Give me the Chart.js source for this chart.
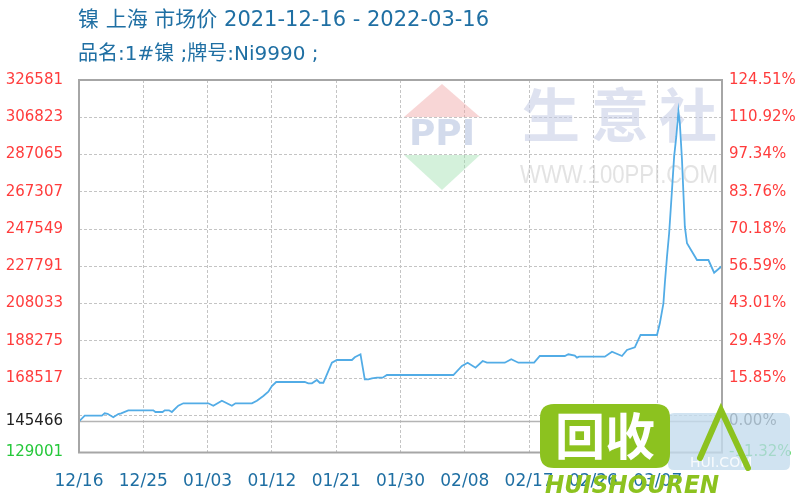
<!DOCTYPE html>
<html><head><meta charset="utf-8">
<script src="https://cdn.jsdelivr.net/npm/chart.js@4.4.1/dist/chart.umd.min.js"></script>
<style>html,body{margin:0;padding:0;background:#fff}#wrap{width:800px;height:500px;position:relative}</style>
</head><body><div id="wrap"><canvas id="c" width="800" height="500"></canvas></div>
<script>
const titleText = '镍 上海 市场价 2021-12-16 - 2022-03-16';
const subtitleText = '品名:1#镍 ;牌号:Ni9990 ;';

// x axis: days after 2021-12-16
const xTickDays = [0, 9, 18, 27, 36, 45, 54, 63, 72, 81];
const xTickLabels = ['12/16', '12/25', '01/03', '01/12', '01/21', '01/30', '02/08', '02/17', '02/26', '03/07'];

// price series (day offset, price)
const priceDays = [0, 0.8, 3.2, 3.6, 4.0, 4.8, 5.5, 5.9, 6.9, 10.4, 10.7, 11.7, 12.0, 12.6, 13.0, 13.9, 14.6,
  18.1, 18.8, 20.0, 21.4, 21.9, 24.2, 24.9, 25.8, 26.5, 27.0, 27.6, 31.6, 32.1, 32.6, 33.3, 33.7, 34.2,
  35.4, 36.1, 38.2, 38.6, 39.4, 40.0, 40.5, 41.0, 41.7, 42.5, 43.1, 52.4, 53.6, 54.4, 55.5, 56.5, 57.1,
  59.6, 60.5, 61.5, 63.7, 64.5, 68.0, 68.5, 69.4, 69.7, 70.0, 73.6, 74.6, 76.0, 76.7, 77.8, 78.6, 80.9,
  81.3, 81.8, 82.0, 82.3, 82.6, 83.0, 83.3, 83.6, 83.9, 84.1, 84.4, 84.6, 84.8, 85.1, 86.5, 88.1, 88.9, 90.0];
const prices = [145466, 148520, 148520, 149800, 149500, 147670, 149420, 149800, 151380, 151380, 150480, 150480, 151380, 151380, 150480, 153820, 155100,
  155100, 153820, 156480, 153820, 155100, 155100, 156480, 158970, 161250, 164270, 166400, 166400, 165700, 165700, 167450, 166000, 166000,
  176630, 178060, 178060, 179490, 181090, 167830, 167830, 168300, 168680, 168680, 170110, 170110, 174880, 176630, 173980, 177530, 176630,
  176630, 178430, 176630, 176630, 180180, 180180, 181090, 180400, 179300, 179830, 179830, 182470, 180180, 183370, 184800, 191330, 191330,
  197530, 208130, 218750, 232850, 245270, 268230, 285900, 296500, 310000, 303610, 284140, 266480, 248770, 239970, 231100, 231100, 224370, 227920];

const basePrice = 145466;
const yMin = 129001, yMax = 326581;
const yTickValues = [129001, 145466, 148759, 168517, 188275, 208033, 227791, 247549, 267307, 287065, 306823, 326581];
const yTickLabels = ['129001', '145466', '', '168517', '188275', '208033', '227791', '247549', '267307', '287065', '306823', '326581'];
const pctTickLabels = ['-11.32%', '0.00%', '', '15.85%', '29.43%', '43.01%', '56.59%', '70.18%', '83.76%', '97.34%', '110.92%', '124.51%'];

const RED = '#ff3c3c', GREEN = '#25c83a', BLACK = '#222222';
function tickColor(c) {
  const v = c.tick ? c.tick.value : null;
  if (v === basePrice) return BLACK;
  if (v === yMin) return GREEN;
  return RED;
}

function rr(ctx, x, y, w, h, r) {
  ctx.beginPath();
  ctx.moveTo(x + r, y); ctx.lineTo(x + w - r, y); ctx.quadraticCurveTo(x + w, y, x + w, y + r);
  ctx.lineTo(x + w, y + h - r); ctx.quadraticCurveTo(x + w, y + h, x + w - r, y + h);
  ctx.lineTo(x + r, y + h); ctx.quadraticCurveTo(x, y + h, x, y + h - r);
  ctx.lineTo(x, y + r); ctx.quadraticCurveTo(x, y, x + r, y); ctx.closePath();
}

const decor = {
  id: 'decor',
  beforeDatasetsDraw(chart) {
    const ctx = chart.ctx;
    ctx.save();
    // PPI logo
    ctx.fillStyle = 'rgba(240,165,165,0.45)';
    ctx.beginPath(); ctx.moveTo(442, 84); ctx.lineTo(480, 117); ctx.lineTo(404, 117); ctx.closePath(); ctx.fill();
    ctx.fillStyle = 'rgba(160,225,175,0.45)';
    ctx.beginPath(); ctx.moveTo(404, 155); ctx.lineTo(480, 155); ctx.lineTo(442, 190); ctx.closePath(); ctx.fill();
    ctx.fillStyle = 'rgba(175,190,220,0.55)';
    ctx.font = 'bold 36px "DejaVu Sans"';
    ctx.textAlign = 'center'; ctx.textBaseline = 'middle';
    ctx.fillText('PPI', 442, 136, 76);
    // 生意社
    ctx.fillStyle = 'rgba(195,203,228,0.55)';
    ctx.font = 'bold 58px "Noto Sans CJK SC"';
    ctx.fillText('生', 551, 115); ctx.fillText('意', 620, 115); ctx.fillText('社', 688, 115);
    ctx.fillStyle = 'rgba(200,200,200,0.5)';
    ctx.font = '25px "Liberation Sans"';
    ctx.textAlign = 'left';
    ctx.fillText('WWW.100PPI.COM', 520, 176, 198);
    ctx.restore();
  },
  afterDatasetsDraw(chart) {
    const {ctx, chartArea: a} = chart;
    ctx.save();
    ctx.strokeStyle = '#a6a6a6'; ctx.lineWidth = 2;
    ctx.strokeRect(a.left, a.top, a.right - a.left, a.bottom - a.top);
    ctx.restore();
  },
  afterDraw(chart) {
    const ctx = chart.ctx;
    ctx.save();
    ctx.textBaseline = 'middle'; ctx.textAlign = 'left';
    ctx.fillStyle = '#1f6fa3';
    ctx.font = '21px "DejaVu Sans", "Noto Sans CJK SC"';
    ctx.fillText(titleText, 78, 21);
    ctx.font = '20px "DejaVu Sans", "Noto Sans CJK SC"';
    ctx.fillText(subtitleText, 78, 55);
    // overlay watermark bottom-right
    ctx.fillStyle = 'rgba(196,220,238,0.8)';
    rr(ctx, 668, 413, 122, 57, 6); ctx.fill();
    ctx.fillStyle = 'rgba(255,255,255,0.85)';
    ctx.font = '14px "DejaVu Sans"';
    ctx.fillText('HUI.COM', 690, 463);
    ctx.fillStyle = '#8cc21f';
    rr(ctx, 540, 404, 130, 64, 14); ctx.fill();
    ctx.fillStyle = '#ffffff';
    ctx.font = 'bold 50px "Noto Sans CJK SC"';
    ctx.textAlign = 'center';
    ctx.fillText('回收', 605, 436);
    ctx.fillStyle = '#8cc21f';
    ctx.font = 'italic bold 24px "DejaVu Sans"';
    ctx.textAlign = 'left';
    ctx.fillText('HUISHOUREN', 545, 487, 174);
    ctx.strokeStyle = '#8cc21f'; ctx.lineWidth = 6; ctx.lineCap = 'round';
    ctx.beginPath(); ctx.moveTo(700, 458); ctx.lineTo(721, 410); ctx.lineTo(748, 468); ctx.stroke();
    ctx.restore();
  }
};

const yCommon = {
  type: 'linear', min: yMin, max: yMax,
  afterBuildTicks: s => { s.ticks = yTickValues.map(v => ({value: v})); },
};

new Chart(document.getElementById('c'), {
  type: 'line',
  data: {
    datasets: [
      { label: '市场价', data: priceDays.map((d, i) => ({x: d, y: prices[i]})), borderColor: '#52ace6', borderWidth: 1.8,
        pointRadius: 0, tension: 0, fill: false, yAxisID: 'y', order: 0 },
      { label: 'base', data: [{x: 0, y: basePrice}, {x: 90, y: basePrice}], borderColor: '#b4b4b4', borderWidth: 1.5,
        pointRadius: 0, fill: false, yAxisID: 'y', order: 1 }
    ]
  },
  options: {
    responsive: false, animation: false, devicePixelRatio: 1,
    layout: {padding: {top: 80, left: 0, right: 0, bottom: 0}},
    plugins: {legend: {display: false}, tooltip: {enabled: false}, title: {display: false}},
    scales: {
      x: {
        type: 'linear', min: 0, max: 90,
        afterBuildTicks: s => { s.ticks = xTickDays.map(v => ({value: v})); },
        afterFit: s => { s.height = 47.5; },
        grid: {color: '#c4c4c4', drawTicks: false, lineWidth: 1},
        border: {display: false, dash: [3, 2]},
        ticks: {autoSkip: false, maxRotation: 0, padding: 19, color: '#1f6fa3',
          font: {family: 'DejaVu Sans', size: 17},
          callback: v => { const i = xTickDays.indexOf(v); return i >= 0 ? xTickLabels[i] : ''; }}
      },
      y: Object.assign({}, yCommon, {
        position: 'left',
        afterFit: s => { s.width = 79; },
        grid: {color: '#c4c4c4', drawTicks: false, lineWidth: 1},
        border: {display: false, dash: [3, 2]},
        ticks: {autoSkip: false, padding: 16, color: tickColor, font: {family: 'DejaVu Sans', size: 15},
          callback: (v) => { const i = yTickValues.indexOf(v); return i >= 0 ? yTickLabels[i] : ''; }}
      }),
      y2: Object.assign({}, yCommon, {
        position: 'right',
        afterFit: s => { s.width = 78; },
        grid: {display: false, drawTicks: false},
        border: {display: false},
        ticks: {autoSkip: false, padding: 7, color: tickColor, font: {family: 'DejaVu Sans', size: 15},
          callback: (v) => { const i = yTickValues.indexOf(v); return i >= 0 ? pctTickLabels[i] : ''; }}
      })
    }
  },
  plugins: [decor]
});
</script>
</body></html>
